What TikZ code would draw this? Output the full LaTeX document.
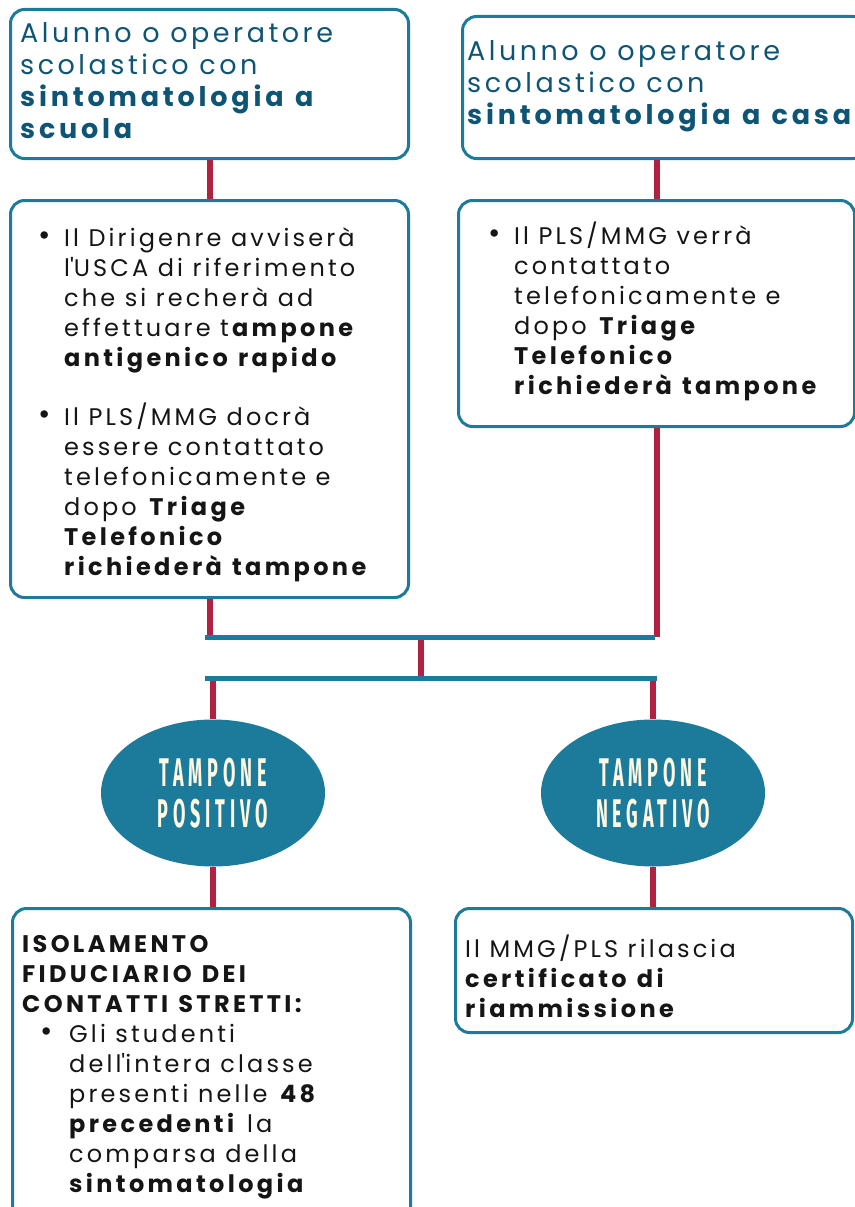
\documentclass[tikz,border=0pt]{standalone}
\usepackage{fontspec}
\setmainfont{Poppins}[LetterSpace=13, BoldFeatures={LetterSpace=14, WordSpace=1.2}]
\newfontfamily\pillfont{Fira Sans}[FakeStretch=0.45,LetterSpace=12]
\usetikzlibrary{positioning,shapes.geometric}
\definecolor{boxteal}{HTML}{1C7A9A}
\definecolor{linkred}{HTML}{B22240}
\definecolor{headteal}{HTML}{0E5575}
\definecolor{cream}{HTML}{FFF9E3}
\definecolor{ink}{HTML}{151515}
\newcommand{\bul}{\makebox[26pt][l]{\raisebox{1pt}{\fontsize{30}{30}\selectfont\textbullet}}}
\newcommand{\ind}{\hspace*{26pt}}
\newcommand{\apo}{\textquotesingle}
\begin{document}
\begin{tikzpicture}[x=1pt, y=-1pt, line join=round,
	card/.style={draw=boxteal, line width=3pt, rounded corners=14pt, inner sep=0pt, anchor=north west},
	redlink/.style={draw=linkred, line width=6pt},
	bar/.style={draw=boxteal, line width=5pt},
	pill/.style={ellipse, fill=boxteal, minimum width=224pt, minimum height=147pt, inner sep=0pt, text=cream, align=center, font=\pillfont\bfseries\fontsize{40}{41}\selectfont},
	txt/.style={anchor=north west, inner sep=0pt, align=left, text=ink, font=\fontsize{24}{30}\selectfont},
	head/.style={txt, text=headteal, font=\fontsize{27}{32}\selectfont}]
	\useasboundingbox (0,0) rectangle (854,1207);
	% collegamenti
	\coordinate (barL) at (205,637); \coordinate (barR) at (655,637);
	\coordinate (bartwoL) at (205,678); \coordinate (bartwoR) at (657,678);
	\coordinate (midtop) at (421,637); \coordinate (midbot) at (421,678);
	% riquadri
	\node[card, minimum width=398pt, minimum height=149pt] (ascuola) at (9,8) {};
	\node[card, minimum width=405pt, minimum height=142pt] (acasa) at (461,15) {};
	\node[card, minimum width=398pt, minimum height=397pt] (dscuola) at (9,199) {};
	\node[card, minimum width=396pt, minimum height=226pt] (dcasa) at (457,199) {};
	\node[pill] (pos) at (213,793) {TAMPONE\\POSITIVO};
	\node[pill] (neg) at (653,793) {TAMPONE\\NEGATIVO};
	\node[card, minimum width=398pt, minimum height=330pt] (isol) at (11,907) {};
	\node[card, minimum width=397pt, minimum height=124pt] (riamm) at (454,907) {};
	\draw[redlink] (ascuola.south) -- (dscuola.north);
	\draw[redlink] (dcasa.north) -- (dcasa.north |- acasa.south);
	\draw[redlink] (dscuola.south) -- (dscuola.south |- barL);
	\draw[redlink] (dcasa.south) -- (dcasa.south |- barR);
	\draw[redlink] (midtop) -- (midbot);
	\draw[redlink] (pos.north |- bartwoL) -- (pos.north);
	\draw[redlink] (neg.north |- bartwoR) -- (neg.north);
	\draw[redlink] (pos.south) -- (pos.south |- isol.north);
	\draw[redlink] (neg.south) -- (neg.south |- riamm.north);
	\draw[bar] (barL) -- (barR);
	\draw[bar] (bartwoL) -- (bartwoR);
	% testi
	\node[head] (ascuolatxt) at (20,22) {Alunno o operatore\\scolastico con\\\textbf{sintomatologia a}\\\textbf{scuola}};
	\node[head] (acasatxt) at (467,40) {Alunno o operatore\\scolastico con\\\textbf{sintomatologia a casa}};
	\node[txt] (dscuolatxt) at (38,228) {\bul Il Dirigenre avviserà\\\ind l\apo USCA di riferimento\\\ind che si recherà ad\\\ind effettuare t\textbf{ampone}\\\ind\textbf{antigenico rapido}\\[29pt]
		\bul Il PLS/MMG docrà\\\ind essere contattato\\\ind telefonicamente e\\\ind dopo \textbf{Triage}\\\ind\textbf{Telefonico}\\\ind\textbf{richiederà tampone}};
	\node[txt] (dcasatxt) at (488,222) {\bul Il PLS/MMG verrà\\\ind contattato\\\ind telefonicamente e\\\ind dopo \textbf{Triage}\\\ind\textbf{Telefonico}\\\ind\textbf{richiederà tampone}};
	\node[txt] (isoltxt) at (22,935) {\textbf{ISOLAMENTO}\\\textbf{FIDUCIARIO DEI}\\\textbf{CONTATTI STRETTI:}\\
		\hspace*{18pt}\makebox[29pt][l]{\raisebox{1pt}{\fontsize{30}{30}\selectfont\textbullet}}Gli studenti\\\hspace*{47pt}dell\apo intera classe\\\hspace*{47pt}presenti nelle \textbf{48}\\\hspace*{47pt}\textbf{precedenti} la\\\hspace*{47pt}comparsa della\\\hspace*{47pt}\textbf{sintomatologia}};
	\node[txt] (riammtxt) at (465,935) {Il MMG/PLS rilascia\\\textbf{certificato di}\\\textbf{riammissione}};
\end{tikzpicture}
\end{document}
